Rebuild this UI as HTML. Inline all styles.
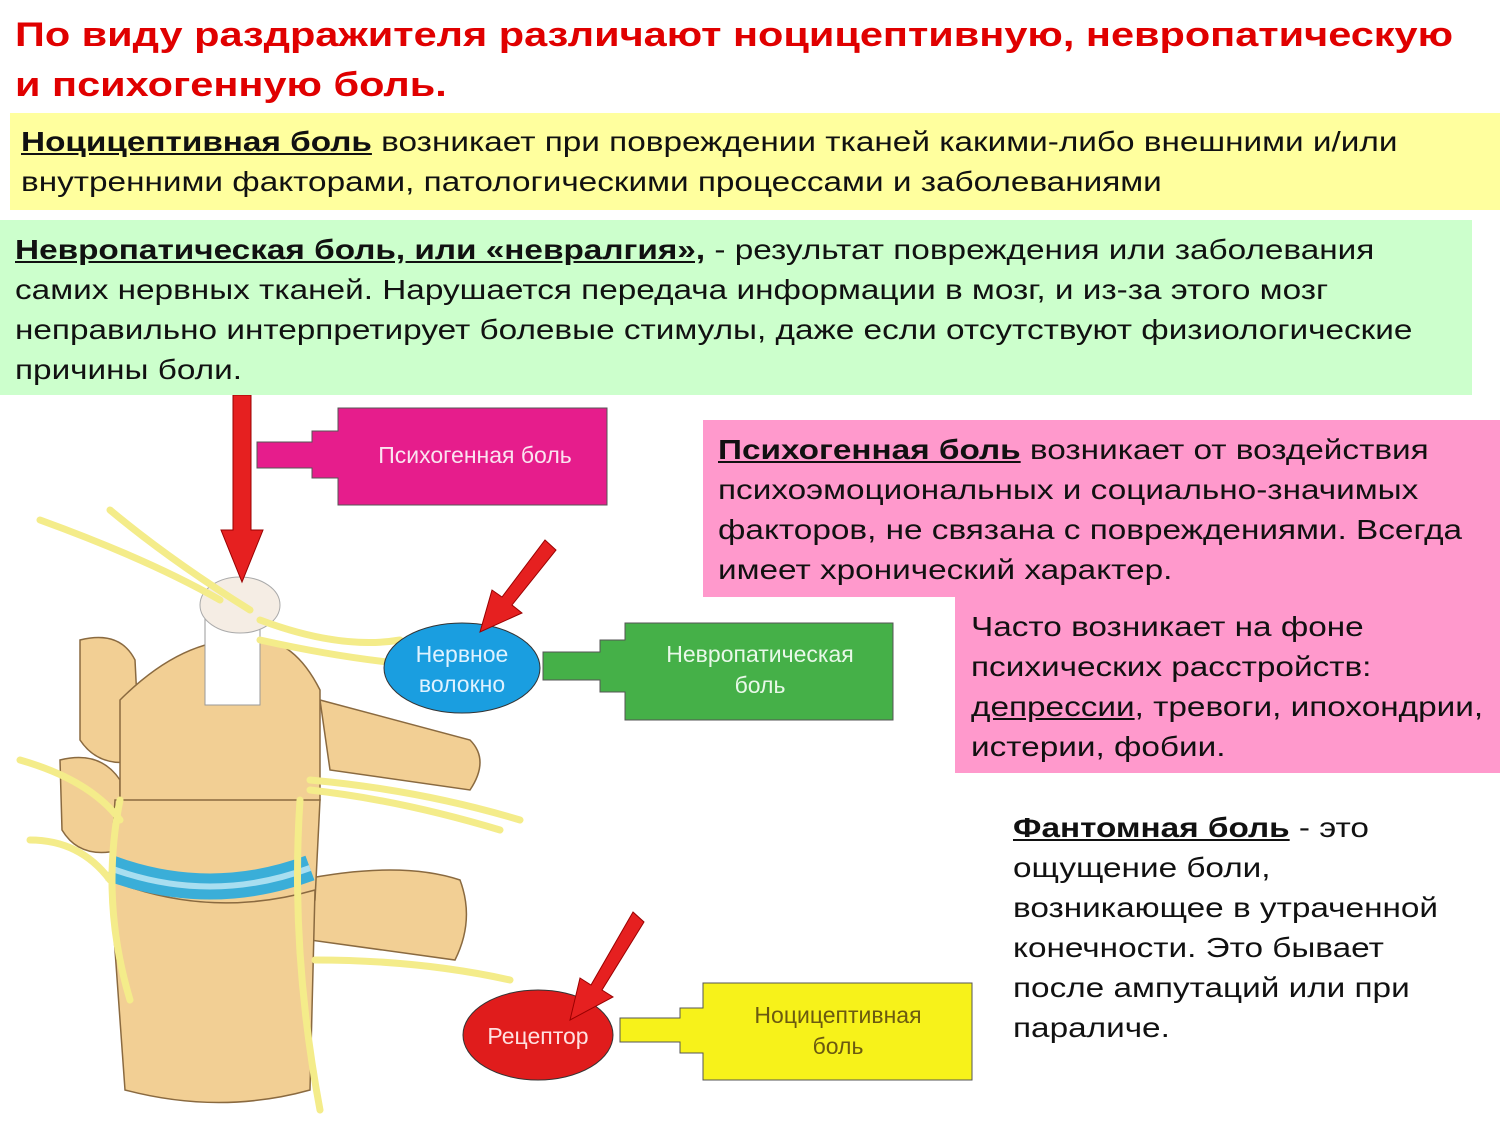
<!DOCTYPE html>
<html><head><meta charset="utf-8"><style>
body{margin:0;width:1500px;height:1125px;background:#fff;position:relative;overflow:hidden;font-family:"Liberation Sans",Arial,sans-serif}
.t{position:absolute;left:15px;top:10px;color:#e00000;font-weight:bold;font-size:34px;line-height:50px;white-space:nowrap;transform:scaleX(1.22);transform-origin:0 0}
.b{position:absolute;box-sizing:border-box}
.s{font-size:28px;line-height:40px;color:#111;white-space:nowrap;transform:scaleX(1.19);transform-origin:0 0;display:inline-block}
</style></head><body>
<div class="t">По виду раздражителя различают ноцицептивную, невропатическую<br>и психогенную боль.</div>
<div class="b" style="left:10px;top:113px;width:1490px;height:97px;background:#ffff9e;padding:9px 0 0 11px"><div class="s"><u><b>Ноцицептивная боль</b></u> возникает при повреждении тканей какими-либо внешними и/или<br>внутренними факторами, патологическими процессами и заболеваниями</div></div>
<div class="b" style="left:0;top:220px;width:1472px;height:175px;background:#ccffcc;padding:10px 0 0 15px"><div class="s"><u><b>Невропатическая боль, или «невралгия»,</b></u> - результат повреждения или заболевания<br>самих нервных тканей. Нарушается передача информации в мозг, и из-за этого мозг<br>неправильно интерпретирует болевые стимулы, даже если отсутствуют физиологические<br>причины боли.</div></div>
<div class="b" style="left:703px;top:420px;width:797px;height:177px;background:#ff99cc;padding:10px 0 0 15px"><div class="s"><u><b>Психогенная боль</b></u> возникает от воздействия<br>психоэмоциональных и социально-значимых<br>факторов, не связана с повреждениями. Всегда<br>имеет хронический характер.</div></div>
<div class="b" style="left:955px;top:597px;width:545px;height:176px;background:#ff99cc;padding:10px 0 0 16px"><div class="s">Часто возникает на фоне<br>психических расстройств:<br><u>депрессии</u>, тревоги, ипохондрии,<br>истерии, фобии.</div></div>
<div class="b" style="left:1013px;top:808px"><div class="s"><u><b>Фантомная боль</b></u> - это<br>ощущение боли,<br>возникающее в утраченной<br>конечности. Это бывает<br>после ампутаций или при<br>параличе.</div></div>
<svg style="position:absolute;left:0;top:395px" width="1000" height="730" viewBox="0 395 1000 730" font-family="Liberation Sans,Arial,sans-serif">
<g fill="#f2cf94" stroke="#8a6a40" stroke-width="1.5">
<path d="M320 700 L470 740 Q490 760 470 790 L330 770 Z"/>
<path d="M300 880 Q400 860 460 880 Q475 920 455 960 L310 940 Z"/>
<path d="M80 640 Q120 630 135 660 L140 760 Q100 770 80 740 Z"/>
<path d="M60 760 Q100 750 120 780 L120 850 Q80 860 62 830 Z"/>
<path d="M120 700 Q180 640 240 640 Q290 630 320 690 L320 800 Q220 820 120 800 Z"/>
<path d="M115 800 L320 800 L315 900 Q220 920 110 880 Z"/>
<path d="M110 880 Q210 920 315 890 L310 1090 Q220 1115 125 1090 Z"/>
</g>
<path d="M110 868 Q210 905 310 868" fill="none" stroke="#3aaed8" stroke-width="26"/>
<path d="M110 868 Q210 905 310 868" fill="none" stroke="#a8def0" stroke-width="6"/>
<rect x="205" y="610" width="55" height="95" fill="#fff" stroke="#999"/>
<ellipse cx="240" cy="605" rx="40" ry="28" fill="#f5ede4" stroke="#aaa"/>
<g stroke="#f4ec8a" stroke-width="7" fill="none" stroke-linecap="round">
<path d="M40 520 Q150 560 220 600"/><path d="M110 510 Q170 560 250 610"/>
<path d="M260 640 Q350 660 420 665"/><path d="M260 620 Q340 650 400 640"/>
<path d="M310 780 Q420 790 520 820"/><path d="M310 790 Q400 800 500 830"/>
<path d="M315 960 Q420 960 510 980"/><path d="M20 760 Q90 780 120 820"/>
<path d="M30 840 Q80 840 110 880"/><path d="M300 800 Q290 950 320 1110"/>
<path d="M120 800 Q100 900 130 1000"/>
</g>
<path d="M233 395 H251 V530 H263 L242 582 L221 530 H233 Z" fill="#e62020" stroke="#900" />
<path d="M338 408 H607 V505 H338 V478 H312 V468 H257 V442 H312 V431 H338 Z" fill="#e61d8c" stroke="#555"/>
<text x="475" y="463" fill="#fbe3f0" font-size="23" text-anchor="middle">Психогенная боль</text>
<path d="M625 623 H893 V720 H625 V692 H600 V680 H543 V652 H600 V640 H625 Z" fill="#45b048" stroke="#555"/>
<text x="760" y="662" fill="#e8f8e8" font-size="23" text-anchor="middle">Невропатическая</text>
<text x="760" y="693" fill="#e8f8e8" font-size="23" text-anchor="middle">боль</text>
<path d="M703 983 H972 V1080 H703 V1053 H680 V1042 H620 V1018 H680 V1008 H703 Z" fill="#f7f21a" stroke="#555"/>
<text x="838" y="1023" fill="#6b5a10" font-size="23" text-anchor="middle">Ноцицептивная</text>
<text x="838" y="1054" fill="#6b5a10" font-size="23" text-anchor="middle">боль</text>
<ellipse cx="462" cy="668" rx="78" ry="45" fill="#1a9ee0" stroke="#333"/>
<text x="462" y="662" fill="#dff2ff" font-size="23" text-anchor="middle">Нервное</text>
<text x="462" y="692" fill="#dff2ff" font-size="23" text-anchor="middle">волокно</text>
<ellipse cx="538" cy="1035" rx="75" ry="45" fill="#e01c1c" stroke="#333"/>
<text x="538" y="1044" fill="#ffe0e0" font-size="23" text-anchor="middle">Рецептор</text>
<path d="M545 540 L556 550 L512 605 L522 613 L480 632 L492 590 L502 597 Z" fill="#e62020" stroke="#900"/>
<path d="M633 912 L644 922 L602 990 L613 997 L570 1020 L580 978 L591 985 Z" fill="#e62020" stroke="#900"/>
</svg>
</body></html>
